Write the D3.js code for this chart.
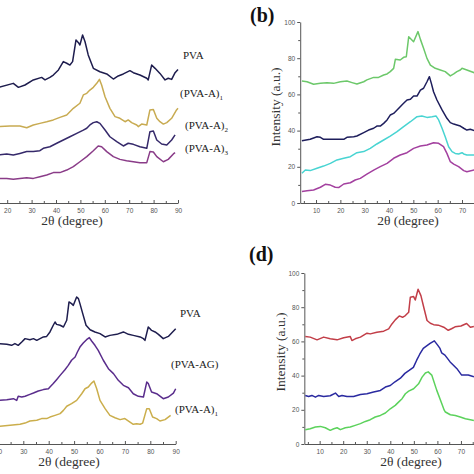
<!DOCTYPE html>
<html>
<head>
<meta charset="utf-8">
<script src="https://cdn.jsdelivr.net/npm/d3@7"></script>
<style>
  html, body { margin: 0; padding: 0; background: #fff; }
  svg { display: block; }
</style>
</head>
<body>
<script>
// ---------- DATA (2θ in degrees, intensity in a.u.) ----------
const xTicksA = [20, 30, 40, 50, 60, 70, 80, 90];
const xTicksB = [10, 20, 30, 40, 50, 60, 70];
const xTicksC = [20, 30, 40, 50, 60, 70, 80, 90];
const xTicksD = [10, 20, 30, 40, 50, 60, 70];
const yTicks = [0, 20, 40, 60, 80, 100];

// Panel (a)
const aPVA = [[16.5,63.9],[22.5,66.1],[24.6,63.9],[27.3,65.2],[30.7,68],[34.1,69.4],[35.5,68],[37.5,69.4],[38.9,70.7],[41,73.5],[43,78.1],[44.4,77.2],[45.7,76.2],[46.8,78.1],[48.2,90.1],[49.2,88.6],[49.8,87.3],[50.9,92.8],[51.9,89.1],[53.2,81.8],[55.3,74.4],[58,72.5],[60.8,71.3],[63.5,68.5],[65.5,70.2],[67.6,71.3],[70.3,73.1],[71.7,72],[74.4,70.7],[77.2,68.9],[77.8,68],[79.2,76.2],[80.6,74.4],[82.6,71.6],[84.7,68],[86,68.9],[87.4,68.3],[88.8,72],[90,73.8]];
const aA1 = [[16.5,42.2],[21.1,42.5],[25.2,42.5],[28,41.6],[30.7,43.1],[33.4,44],[36.2,44.9],[38.9,45.9],[41.6,47.3],[44.4,48.6],[47.1,52.3],[49.8,55.1],[51.2,59.7],[52.6,60.6],[53.9,62.4],[55.3,63.9],[56.7,66.1],[57.8,68.3],[58.7,65.2],[60.1,58.7],[62.1,52.3],[64.2,47.7],[66.2,46.8],[68.3,44.9],[69.6,45.9],[71,44.4],[73.1,43.1],[73.7,42.2],[75.1,43.6],[77.2,43.1],[78.5,51.4],[79.9,51.7],[81.3,46.8],[82.6,44.9],[84,43.6],[85.4,44.4],[87.4,46.8],[89.4,51.4],[90,52.3]];
const aA2 = [[16.5,26.5],[19.8,27.1],[22.5,26.5],[25.2,27.4],[28,28.4],[30.7,28.4],[33.4,28.9],[34.8,30.2],[37.5,31.1],[40.3,33],[43,34.8],[45.7,36.6],[48.5,38.5],[51.2,40.3],[52.6,41.3],[53.9,43.1],[55.3,44.4],[56.7,44.9],[58,44],[60.1,40.3],[62.1,36.6],[64.9,33.9],[67.6,31.5],[69.6,33],[71.7,32.4],[74.4,31.1],[77.2,30.2],[78.5,39.4],[79.9,39.8],[81.3,34.8],[83.3,32.6],[85.4,32],[87.4,34.8],[88.8,37.6]];
const aA3 = [[16.5,13.6],[19.8,13.6],[22.5,13.1],[25.2,13.6],[28,14],[30.7,13.6],[33.4,14.5],[36.2,15.5],[38.9,16.8],[41.6,16.8],[44.4,18.2],[47.1,20.1],[49.8,22.8],[52.6,25.6],[55.3,28.9],[57.3,31.5],[58.7,31.1],[60.8,28.4],[63.5,25.6],[66.2,24.1],[68.9,23.4],[71.7,22.8],[74.4,22.3],[77.2,22.3],[78.5,28.4],[79.9,28.2],[81.3,25.6],[84,22.8],[86,24.1],[88.1,27.1],[88.8,27.8]];

// Panel (b)
const bGreen = [[4.2,67.4],[6.3,67],[9,65.6],[11.8,66.1],[14.5,66.5],[17.2,66.1],[20,67],[22.7,67.4],[24.8,66.5],[26.8,65.7],[29.6,67],[30.9,68],[33.7,69.4],[35.7,69.4],[37.8,70.7],[39.2,71.3],[40.5,72.6],[41.9,74.4],[42.6,79.4],[44.6,79],[46,80.5],[47.1,80.8],[48.1,91.9],[49.4,90.1],[50.1,89.1],[51.9,94.7],[52.9,90.4],[54.2,85.5],[55.6,79.9],[57,76.2],[59,74.4],[61.1,73.5],[63.1,72.6],[65.2,70.2],[66.6,71.3],[67.9,72.6],[69.3,73.5],[70,74.4],[72,73.5],[75,72]];
const bNavy = [[4.2,34.4],[7.6,35.2],[10.4,36.6],[11.8,36.3],[13.1,35.2],[15.9,35.2],[18.6,35.2],[21.4,35.2],[22.7,36.3],[25.5,36.6],[26.8,37],[29.6,38.9],[31.6,40.3],[33.7,41.3],[35,42.5],[36.4,42.5],[37.8,44],[39.2,45.9],[40.5,48.6],[41.9,49.5],[43.3,51.4],[44.6,53.2],[46,55.1],[47.4,56.9],[48.8,57.3],[50.1,59.1],[51.5,59.1],[52.9,62.4],[54.2,63.4],[55.6,67],[56.6,69.8],[57.4,66.1],[58.3,61.5],[59.7,56.9],[61.8,51.4],[63.8,46.8],[65.2,44.4],[66.6,43.6],[67.9,43.1],[69.3,42.5],[70.7,41.3],[72,40.3],[73.4,40.7],[75,40]];
const bCyan = [[4.2,16.4],[5.6,18.2],[7.6,17.9],[10.4,19.2],[13.1,20.4],[15.9,21.9],[18.6,23.8],[21.4,24.7],[24.1,25.6],[26.8,27.8],[29.6,28.4],[32.3,30.2],[35,32.6],[37.8,34.8],[40.5,37],[43.3,39.4],[46,42.2],[48.8,44.9],[51.5,47.7],[53.5,48.1],[55.6,47.3],[57.7,47.7],[59.3,48.1],[60.4,45.9],[61.8,41.3],[63.1,36.6],[64.5,31.1],[65.9,28.4],[67.2,27.4],[68.6,27.1],[70,27.8],[70.7,27.1],[72,26.5],[75,26.5]];
const bMagenta = [[4.2,6.3],[6.3,6.8],[9,7.2],[11.8,8.7],[13.8,10.3],[15.9,9.9],[17.9,8.7],[19.3,8.5],[21.4,10.5],[24.1,11.2],[26.1,12.7],[28.2,13.6],[30.9,16],[33.7,18.2],[36.4,20.1],[39.2,21.9],[41.9,24.7],[44.6,26.5],[47.4,27.8],[50.1,30.2],[52.9,31.5],[55.6,32],[58.3,33.3],[60.4,33],[62.4,31.1],[63.8,27.4],[65.2,22.8],[66.6,21.5],[68.6,20.1],[70.7,17.9],[72,17.3],[75,18.2]];

// Panel (c)
const cPVA = [[20.5,58.5],[23.5,58.1],[25.4,57.5],[26.7,58.5],[28,57.5],[29.4,59.4],[30.7,61.4],[32.6,60.8],[34,61.4],[35.3,60.4],[36.6,61.4],[37.9,62.4],[39.2,62.7],[40.5,65.3],[41.8,69.2],[42.5,71.1],[43.1,69.7],[44.5,69.2],[45.8,68.2],[47.1,72.1],[48,82.8],[49,81.8],[49.7,80.8],[51,85.7],[51.7,84.7],[52.3,81.8],[53.4,76],[54.7,69.2],[56.3,66.6],[58.2,65.3],[60.2,64.3],[62.2,62.4],[64.1,63.3],[66.8,63.9],[69.4,65.3],[71.4,63.9],[73.3,63.3],[76,62.4],[77.3,61.4],[77.9,60.4],[79.2,68.2],[79.9,67.2],[80.5,66.2],[81.9,65.3],[83.2,63.9],[85.1,61.4],[87.1,62.7],[88.4,64.7],[90,67.2]];
const cAG = [[20.5,25.4],[23.5,25.8],[26.1,26.4],[27.4,25.4],[28,27.8],[29.4,27.4],[30.7,27.8],[32.6,28.9],[34,29.7],[35.9,30.9],[37.9,31.7],[39.9,32.2],[40.5,33.2],[41.8,35.2],[43.1,37.5],[44.5,40],[46.4,43.3],[47.7,45.8],[49,48.8],[50.4,50.7],[51.3,53.6],[52.3,56.5],[53.6,58.9],[54.9,60.8],[56,62],[56.9,60],[58.2,57.5],[59.5,54.6],[61.5,48.8],[63.5,43.9],[65.5,41],[67.4,37.1],[69.4,34.2],[71.4,32.8],[73.3,29.3],[75.3,27.8],[77.3,27.4],[78.6,36.1],[79.2,35.2],[80.5,30.3],[82.5,29.3],[85.1,26.4],[87.1,27.4],[89.1,29.7],[90,32.2]];
const cA1 = [[20.5,10.3],[24.8,10.9],[28.7,11.5],[30.7,12.2],[32.6,13.4],[35.3,13.8],[37.2,14.8],[39.2,14.8],[40.5,15.7],[42.5,16.7],[44.5,17.7],[45.8,19.6],[47.1,22],[49,23.5],[51,25.4],[53,29.3],[54.3,32.2],[55.6,33.2],[56.9,35.5],[57.8,36.7],[58.9,32.2],[60.2,25.4],[62.2,20.6],[64.1,16.7],[66.1,15.3],[68.1,14.2],[70,14.8],[72,12.8],[73.3,11.5],[74.6,11.8],[76,11.5],[77,12.2],[78.6,20.6],[79.6,20.6],[80.9,15.7],[82.5,14.8],[83.8,13.4],[85.8,14.2],[88,16.7]];

// Panel (d)
const dRed = [[3.9,62.8],[6,62.5],[8.9,60.9],[11.7,62.5],[14.5,61.5],[17.4,60.9],[20.2,62.1],[23,62.8],[23.7,60.5],[25.1,61.5],[27.3,62.5],[30.1,64.8],[31.5,64.4],[34.3,65.4],[37.2,66],[39.3,67.3],[40.7,70.2],[42.1,72.6],[43.8,74.9],[45.2,74.1],[46.4,75.1],[47.8,77],[48.5,85.8],[49.9,86.2],[50.6,84.2],[51.8,90.5],[53,86.8],[54.2,80],[55.6,72.2],[57,70.6],[58.4,69.8],[60.4,69.5],[62.7,68.3],[64.6,66.5],[66,67.4],[67.5,68.5],[70,69],[72.4,70.5],[74,68.3],[75.5,68.7]];
const dBlue = [[3.9,28.4],[5.3,27.8],[6.7,28.4],[8.2,27.4],[9.6,28.4],[11.7,27.8],[14.5,28.2],[16.7,29.8],[18.1,27.8],[19.5,28.4],[21.6,27.8],[24.4,27.8],[27.3,29],[30.1,29.4],[32.9,30.4],[35.8,31.3],[37.9,33.3],[40,34.2],[42,36.4],[44.3,38.5],[46.2,41.3],[48,43],[49.8,44.8],[51.2,49],[52.5,52.5],[54,55.9],[56.9,58.8],[58.7,60.3],[60.1,57.8],[61.1,55.9],[61.8,53.3],[63.2,52],[65.4,48],[68.2,44.2],[70.3,40.3],[73.1,40.3],[75.5,39.3]];
const dGreen = [[3.9,8.4],[6,8.9],[8.2,9.9],[10.3,10.3],[12.4,9.5],[14.5,8],[16,8.9],[17.4,9.5],[18.8,8.4],[20.9,9.5],[23,9.9],[25.1,10.9],[27.3,11.9],[29.4,13.2],[31.5,14.2],[33.6,15.8],[35.8,16.7],[37.9,18.1],[40,20.6],[42.1,22.6],[43.5,24.5],[45,26.5],[46.4,29.4],[47.8,30.9],[49.9,32.3],[52,35.2],[53.5,39.1],[54.9,41.5],[56.1,42.2],[57.6,40.3],[59.7,31.5],[61.8,23.8],[62.9,19.8],[63.4,18.7],[65.5,17.1],[67.6,16.7],[69.7,15.8],[71.9,14.8],[74,14.2],[75.5,13.8]];

// Curve labels
const aLabels = [["PVA", ""], ["(PVA-A)", "1"], ["(PVA-A)", "2"], ["(PVA-A)", "3"]];
const cLabels = [["PVA", ""], ["(PVA-AG)", ""], ["(PVA-A)", "1"]];

// ---------- DRAWING ----------
const svg = d3.select("body").append("svg").attr("width", 474).attr("height", 474)
  .style("background", "#fff");

const serif = "'Liberation Serif','Times New Roman',Times,serif";
const sans = "'Liberation Sans',Arial,sans-serif";

function panel(cfg) {
  const x = d3.scaleLinear().domain([3.5, 90]).range(cfg.xr);
  const y = d3.scaleLinear().domain([0, 100]).range(cfg.yr);
  const g = svg.append("g");
  const line = d3.line().x(d => x(d[0])).y(d => y(d[1]));

  // x axis
  g.append("g").attr("transform", `translate(0,${y(0)})`)
    .call(d3.axisBottom(x).tickValues(cfg.xTicks).tickSizeInner(-3).tickSizeOuter(0).tickPadding(5));
  g.append("g").attr("transform", `translate(0,${y(0)})`)
    .call(d3.axisBottom(x).tickValues(d3.range(5, 91, 10)).tickSizeInner(-2).tickSizeOuter(0).tickFormat(""))
    .select(".domain").remove();
  // y axis
  if (cfg.yAxis) {
    g.append("g").attr("transform", `translate(${x(3.5)},0)`)
      .call(d3.axisLeft(y).tickValues(yTicks).tickSizeInner(3).tickSizeOuter(0).tickPadding(2));
    g.append("g").attr("transform", `translate(${x(3.5)},0)`)
      .call(d3.axisLeft(y).tickValues(d3.range(10, 100, 20)).tickSizeInner(2).tickSizeOuter(0).tickFormat(""))
      .select(".domain").remove();
  }
  g.selectAll(".domain").attr("stroke", "#555").attr("stroke-width", 1);
  g.selectAll(".tick line").attr("stroke", "#555").attr("stroke-width", 1);
  g.selectAll(".tick text").attr("font-family", sans).attr("font-size", 6.5).attr("fill", "#555");

  cfg.series.forEach(s => {
    g.append("path").datum(s.data).attr("d", line)
      .attr("fill", "none").attr("stroke", s.color).attr("stroke-width", 1.5)
      .attr("stroke-linejoin", "round");
  });

  g.append("text").attr("x", cfg.xl[0]).attr("y", cfg.xl[1]).attr("text-anchor", "middle")
    .attr("font-family", serif).attr("font-size", 13.5).attr("fill", "#333").text("2θ (degree)");
  if (cfg.yl) {
    g.append("text").attr("transform", `translate(${cfg.yl[0]},${cfg.yl[1]}) rotate(-90)`)
      .attr("text-anchor", "middle").attr("font-family", serif).attr("font-size", 13.5)
      .attr("fill", "#333").text("Intensity (a.u.)");
  }
  if (cfg.tag) {
    g.append("text").attr("x", cfg.tag[1]).attr("y", cfg.tag[2])
      .attr("font-family", serif).attr("font-size", 20).attr("font-weight", "bold")
      .attr("fill", "#111").text(cfg.tag[0]);
  }
  if (cfg.labels) {
    cfg.labels.forEach((lb, i) => {
      const t = g.append("text").attr("x", cfg.labelPos[i][0]).attr("y", cfg.labelPos[i][1])
        .attr("font-family", serif).attr("font-size", 11).attr("fill", "#222");
      t.append("tspan").text(lb[0]);
      if (lb[1]) t.append("tspan").attr("font-size", 7).attr("dy", 2.5).text(lb[1]);
    });
  }
}

// (a)
panel({
  xr: [2.44 * 3.5 - 41.6, 2.44 * 90 - 41.6], yr: [203, 22],
  yAxis: false, xTicks: xTicksA,
  series: [
    { data: aPVA, color: "#1e1d4e" },
    { data: aA1, color: "#c8ab52" },
    { data: aA2, color: "#35296a" },
    { data: aA3, color: "#8a3c88" }
  ],
  xl: [72, 225],
  labels: aLabels, labelPos: [[183, 59], [180, 97], [185, 129], [185, 152]]
});

// (b)
panel({
  xr: [291.7 + 2.433 * 3.5, 291.7 + 2.433 * 90], yr: [203, 22],
  yAxis: true, xTicks: xTicksB,
  series: [
    { data: bGreen, color: "#6cc86a" },
    { data: bNavy, color: "#1e1e5c" },
    { data: bCyan, color: "#48d4d2" },
    { data: bMagenta, color: "#a3409f" }
  ],
  xl: [408, 225], yl: [280, 107], tag: ["(b)", 250, 22]
});

// (c)
panel({
  xr: [2.54 * 3.5 - 52.9, 2.54 * 90 - 52.9], yr: [444, 272.4],
  yAxis: false, xTicks: xTicksC,
  series: [
    { data: cPVA, color: "#1e1d4e" },
    { data: cAG, color: "#5a2d8c" },
    { data: cA1, color: "#cbae4c" }
  ],
  xl: [69, 466],
  labels: cLabels, labelPos: [[180, 317], [171, 368], [175, 413]]
});

// (d)
panel({
  xr: [296.1 + 2.355 * 3.5, 296.1 + 2.355 * 90], yr: [444, 273],
  yAxis: true, xTicks: xTicksD,
  series: [
    { data: dRed, color: "#c23e48" },
    { data: dBlue, color: "#2a2aa0" },
    { data: dGreen, color: "#5cd25c" }
  ],
  xl: [411, 466], yl: [285, 352], tag: ["(d)", 249, 261]
});
</script>
</body>
</html>
